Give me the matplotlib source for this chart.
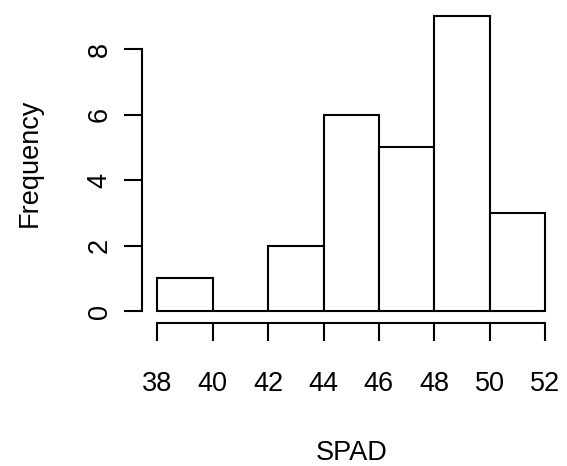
import matplotlib
matplotlib.use("Agg")
import matplotlib.pyplot as plt

# histogram of SPAD readings (bin edges and counts)
bin_edges = [38, 40, 42, 44, 46, 48, 50, 52]
counts = [1, 0, 2, 6, 5, 9, 3]
x_ticks = [38, 40, 42, 44, 46, 48, 50, 52]
y_ticks = [0, 2, 4, 6, 8]

plt.rcParams["font.family"] = ["Liberation Sans", "DejaVu Sans"]
FS = 19.5

fig = plt.figure(figsize=(5.67, 4.66), dpi=100)
ax = fig.add_axes([0.2504, 0.3073, 0.7379, 0.683])

lefts = bin_edges[:-1]
widths = [b - a for a, b in zip(bin_edges[:-1], bin_edges[1:])]
ax.bar(lefts, counts, width=widths, align="edge", color="white",
       edgecolor="black", linewidth=1.5)

# R pads the data range by 4% on each side
ax.set_xlim(37.44, 52.56)
ax.set_ylim(-0.36, 9.36)

for side in ("top", "right"):
    ax.spines[side].set_visible(False)
ax.spines["bottom"].set_bounds(x_ticks[0], x_ticks[-1])
ax.spines["left"].set_bounds(y_ticks[0], y_ticks[-1])
for side in ("bottom", "left"):
    ax.spines[side].set_linewidth(1.5)

ax.set_xticks(x_ticks)
ax.set_yticks(y_ticks)
ax.tick_params(axis="both", direction="out", length=13, width=1.5,
               labelsize=FS)
ax.tick_params(axis="x", pad=22)
ax.tick_params(axis="y", pad=8)
for lab in ax.get_yticklabels():
    lab.set_rotation(90)
    lab.set_va("center")

fig.text(0.621, 0.0135, "SPAD", ha="center", va="baseline", fontsize=FS)
fig.text(0.0644, 0.650, "Frequency", ha="center", va="baseline",
         rotation=90, rotation_mode="anchor", fontsize=FS)

fig.savefig("out.png", dpi=100)
